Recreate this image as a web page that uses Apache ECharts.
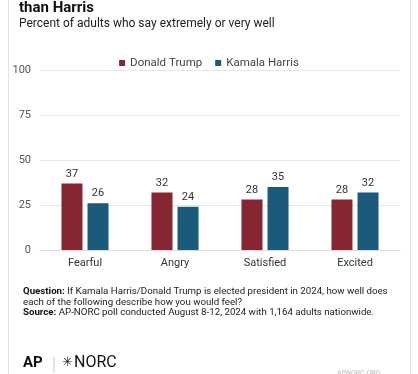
<!DOCTYPE html>
<html><head><meta charset="utf-8">
<script src="https://cdn.jsdelivr.net/npm/echarts@6/dist/echarts.min.js"></script>
<style>html,body{margin:0;padding:0;background:#fff}#c{width:418px;height:374px}</style>
</head><body><div id="c"></div>
<script>
const categories = ['Fearful', 'Angry', 'Satisfied', 'Excited'];
const trumpValues = [37, 32, 28, 28];
const harrisValues = [26, 24, 35, 32];
const seriesNames = ['Donald Trump', 'Kamala Harris'];
const yTicks = [0, 25, 50, 75, 100];

const chart = echarts.init(document.getElementById('c'), null, {renderer: 'canvas'});
const font = 'Roboto, "Liberation Sans", sans-serif';
chart.setOption({
  animation: false,
  backgroundColor: '#ffffff',
  textStyle: {fontFamily: font},
  graphic: [
    {type: 'rect', shape: {x: 8.5, y: -10, width: 402, height: 400}, style: {fill: 'none', stroke: '#e3e3e3', lineWidth: 1}, silent: true},
    {type: 'text', left: 19, top: 1, style: {text: 'than Harris', font: 'bold 15px ' + font, fill: '#111'}},
    {type: 'text', left: 19, top: 18, style: {text: 'Percent of adults who say extremely or very well', font: '12px ' + font, fill: '#222'}},
    {type: 'text', left: 23, top: 287, style: {
      rich: {
        b: {font: 'bold 9.7px ' + font, fill: '#111', lineHeight: 10.5},
        n: {font: '9.7px ' + font, fill: '#222', lineHeight: 10.5}
      },
      text: '{b|Question:}{n| If Kamala Harris/Donald Trump is elected president in 2024, how well does}\n{n|each of the following describe how you would feel?}\n{b|Source:}{n| AP-NORC poll conducted August 8-12, 2024 with 1,164 adults nationwide.}'
    }},
    {type: 'text', left: 23, top: 356, style: {text: 'AP', font: 'bold 15px ' + font, fill: '#111'}},
    {type: 'line', shape: {x1: 54, y1: 357, x2: 54, y2: 373}, style: {stroke: '#ccc', lineWidth: 1}},
    {type: 'text', left: 62, top: 356, style: {text: '\u2733', font: '13px "DejaVu Sans", sans-serif', fill: '#222'}},
    {type: 'text', left: 74, top: 355, style: {text: 'NORC', font: '16px ' + font, fill: '#111'}},
    {type: 'text', left: 337, top: 370, style: {text: 'APNORC.ORG', font: '7px ' + font, fill: '#bbb'}}
  ],
  legend: {
    data: seriesNames,
    top: 52,
    left: 'center',
    itemWidth: 6,
    itemHeight: 6,
    itemGap: 13,
    icon: 'rect',
    textStyle: {fontSize: 11.5, color: '#444', fontFamily: font}
  },
  grid: {left: 40, right: 18, top: 70, bottom: 124, containLabel: false},
  xAxis: {
    type: 'category',
    data: categories,
    axisLine: {lineStyle: {color: '#dcdcdc'}},
    axisTick: {show: false},
    axisLabel: {color: '#333', fontSize: 11, margin: 8}
  },
  yAxis: {
    type: 'value',
    min: 0, max: 100, interval: 25,
    axisLabel: {color: '#555', fontSize: 11, margin: 9, formatter: v => yTicks.includes(v) ? String(v) : ''},
    splitLine: {lineStyle: {color: '#e6e6e6'}},
    axisLine: {show: false}, axisTick: {show: false}
  },
  series: [
    {name: seriesNames[0], type: 'bar', data: trumpValues, barWidth: 21, barGap: '24%',
     itemStyle: {color: '#862632'},
     label: {show: true, position: 'top', distance: 4, color: '#333', fontSize: 11}},
    {name: seriesNames[1], type: 'bar', data: harrisValues, barWidth: 21,
     itemStyle: {color: '#1a5b7b'},
     label: {show: true, position: 'top', distance: 4, color: '#333', fontSize: 11}}
  ]
});
</script></body></html>
